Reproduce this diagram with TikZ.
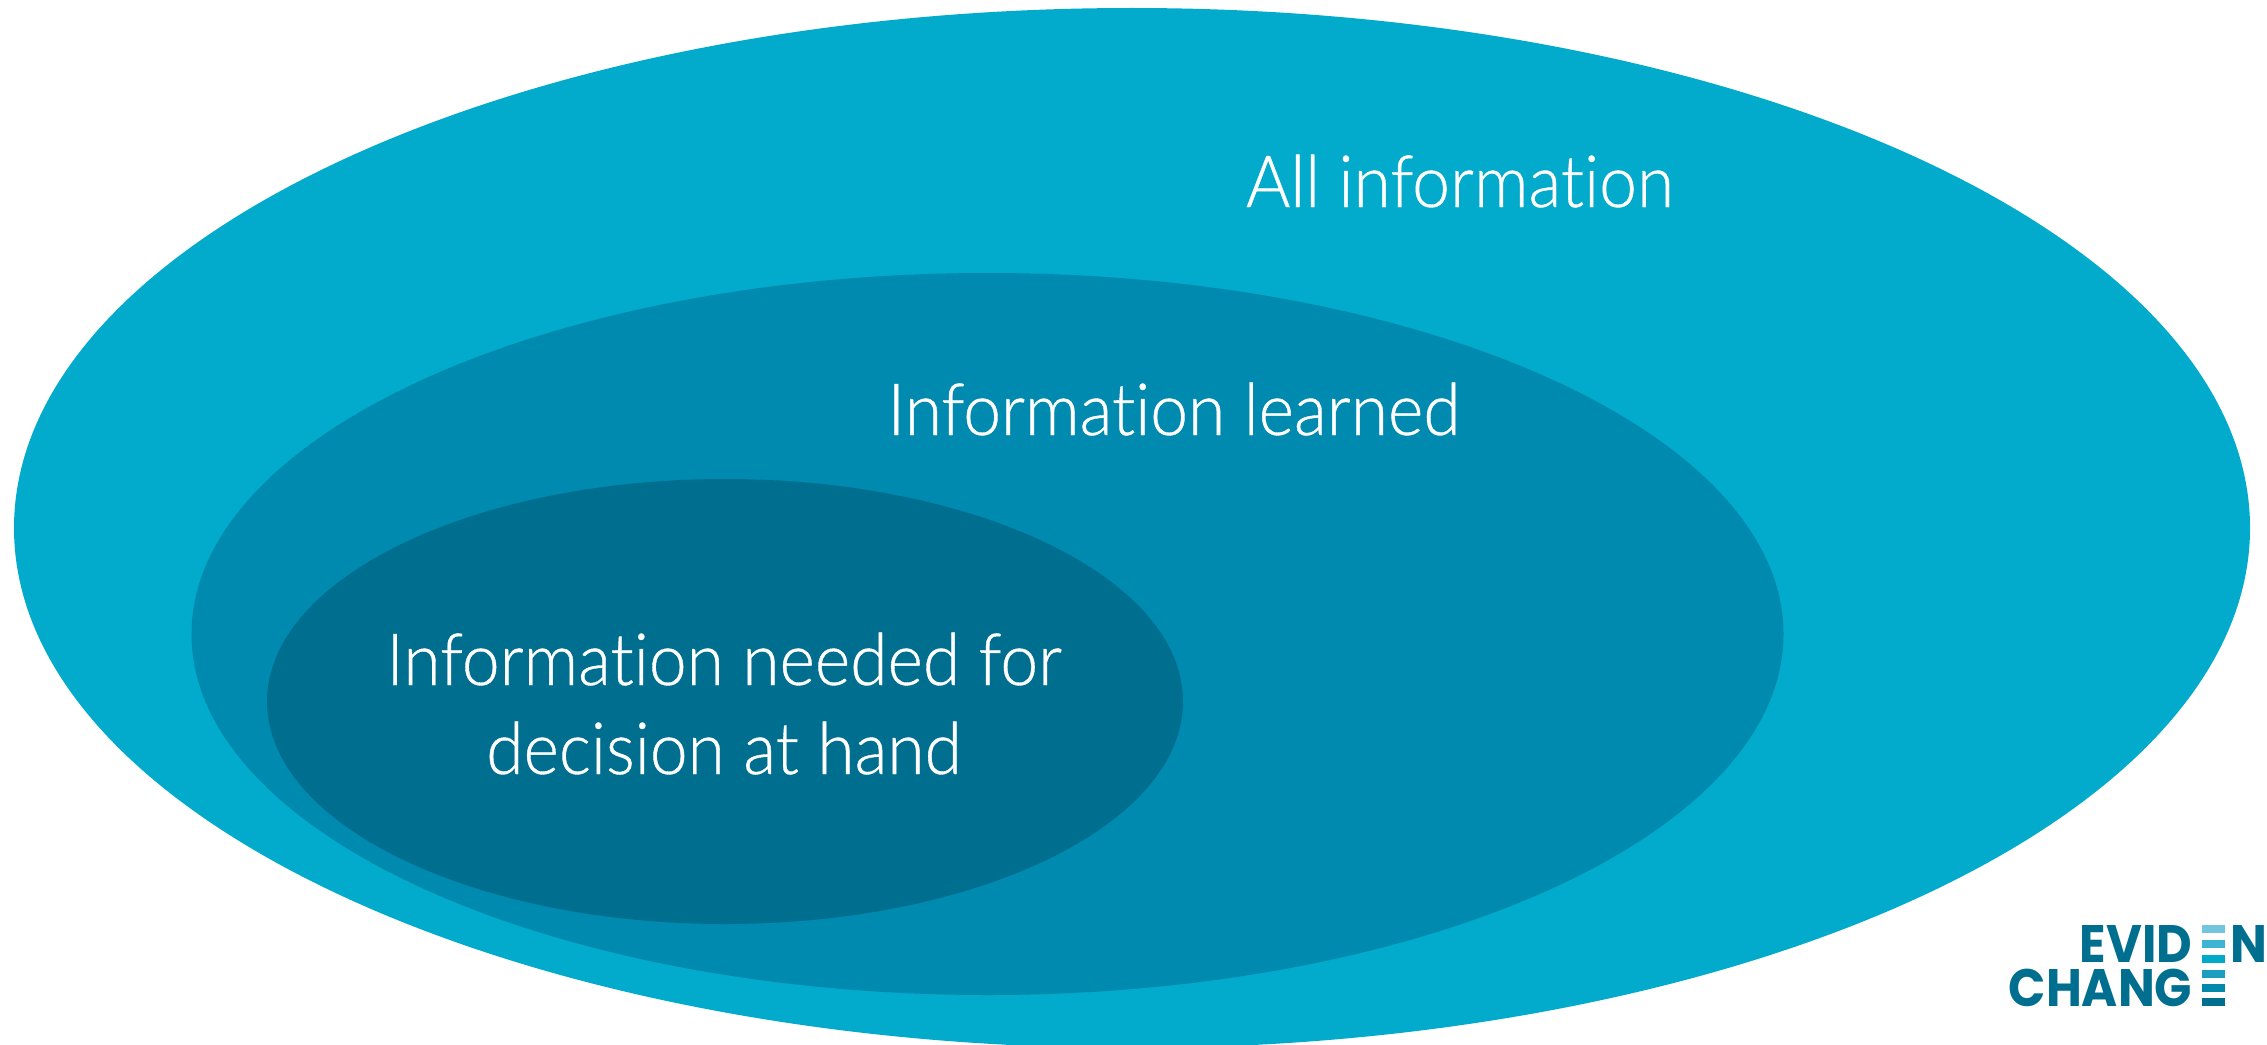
\documentclass[tikz,border=0pt]{standalone}
\usepackage{fontspec}
\setmainfont[FakeStretch=0.94,FakeBold=0.5,Ligatures=NoCommon]{Lato Light}
\newfontfamily\logofont[FakeStretch=0.93]{Poppins Bold}
\definecolor{allblue}{HTML}{02ABCB}
\definecolor{learnedblue}{HTML}{008AAF}
\definecolor{neededblue}{HTML}{006F8F}
\definecolor{barone}{HTML}{72C5DC}
\definecolor{bartwo}{HTML}{3DB4D3}
\definecolor{barthree}{HTML}{00AAC8}
\definecolor{barfour}{HTML}{1A9DBE}
\definecolor{barfive}{HTML}{0088AB}
\definecolor{barsix}{HTML}{006F8F}
\tikzset{
  infolabel/.style={anchor=base,text=white,inner sep=0pt,font=\fontsize{20.5}{25}\selectfont},
  logoword/.style={anchor=base east,text=neededblue,inner sep=0pt,font=\logofont\fontsize{15}{15}\selectfont},
}
\begin{document}
\begin{tikzpicture}
      \useasboundingbox (0,0) rectangle (22.67,10.44);

      \fill[allblue] (11.32,5.16) ellipse[x radius=11.18,y radius=5.20];
      \fill[learnedblue] (9.875,4.10) ellipse[x radius=7.96,y radius=3.61];
      \fill[neededblue] (7.25,3.425) ellipse[x radius=4.58,y radius=2.225];

      \node[infolabel] (allinfo) at (14.60,8.37) {All information};
      \node[infolabel] (learned) at (11.74,6.09) {Information learned};
      \node[infolabel] (needed) at (7.24,3.59) {Information needed for};
      \node[infolabel] (hand) at (7.24,2.70) {decision at hand};

      \node[logoword] (evid) at (21.93,0.82) {EVID};
      \node[logoword,anchor=base west] (logon) at (22.30,0.82) {N};
      \node[logoword] (chang) at (21.93,0.38) {CHANG};

      \foreach \ytop/\c in {1.19/barone,1.04/bartwo,0.89/barthree,0.74/barfour,0.60/barfive,0.46/barsix}
        \fill[\c] (22.02,\ytop) rectangle (22.25,\ytop-0.075);
\end{tikzpicture}
\end{document}
